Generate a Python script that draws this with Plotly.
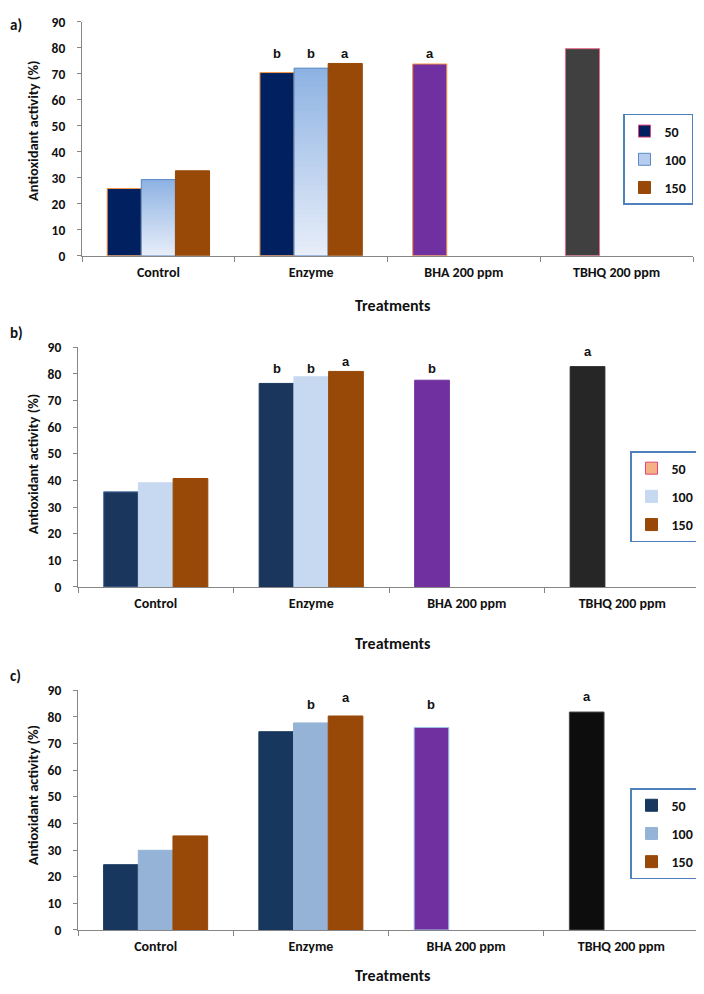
import plotly.graph_objects as go
from plotly.subplots import make_subplots

# the page body keeps its default 8px margin, so the figure is drawn 8px in
OFF = 8
W, H = 704 - OFF, 994 - OFF

categories = ["Control", "Enzyme", "BHA 200 ppm", "TBHQ 200 ppm"]
series_names = ["50", "100", "150"]

# a)
a_50 = [25.9, 70.5, 73.8, 79.7]
a_100 = [29.3, 72.2, None, None]
a_150 = [32.7, 74.0, None, None]
a_letters = [("Enzyme", 0, "b", 77.9), ("Enzyme", 1, "b", 77.9),
             ("Enzyme", 2, "a", 77.9), ("BHA 200 ppm", 0, "a", 77.9)]

# b)
b_50 = [35.7, 76.4, 77.6, 82.7]
b_100 = [39.1, 78.9, None, None]
b_150 = [40.7, 80.9, None, None]
b_letters = [("Enzyme", 0, "b", 81.9), ("Enzyme", 1, "b", 81.9),
             ("Enzyme", 2, "a", 84.7), ("BHA 200 ppm", 0, "b", 81.9),
             ("TBHQ 200 ppm", 0, "a", 88.4)]

# c)
c_50 = [24.5, 74.4, 76.0, 81.8]
c_100 = [29.9, 77.7, None, None]
c_150 = [35.3, 80.3, None, None]
c_letters = [("Enzyme", 1, "b", 84.6), ("Enzyme", 2, "a", 87.2),
             ("BHA 200 ppm", 0, "b", 84.6), ("TBHQ 200 ppm", 0, "a", 87.7)]

FONT = "Carlito, Lato, sans-serif"
AXIS = "#868686"
TXT = "#111111"
BROWN = "#984807"
PURPLE = "#7030A0"

# plot areas in page pixels: left, right, top(90), bottom(0)
boxes = [(82, 693, 14, 252), (78, 700, 345, 589), (78, 699, 694, 938)]
BARGAP = 0.33


def px(x):
    return (x - OFF) / W


def py(y):
    return 1 - (y - OFF) / H


def hexmix(c1, c2, f):
    a = [int(c1[i:i + 2], 16) for i in (1, 3, 5)]
    b = [int(c2[i:i + 2], 16) for i in (1, 3, 5)]
    return "#" + "".join("%02x" % round(a[i] + (b[i] - a[i]) * f) for i in range(3))


fig = make_subplots(rows=3, cols=1)

panels = [
    dict(v=(a_50, a_100, a_150), letters=a_letters,
         c50=["#002060", "#002060", PURPLE, "#404040"],
         l50=["#F79646", "#F79646", "#F79646", "#E46C8A"],
         c100="#B7CCEE", l100="#5A8AC6", grad=("#E8EEF9", "#8DB2E3"),
         c150=BROWN, leg50=("#002060", "#E0457B")),
    dict(v=(b_50, b_100, b_150), letters=b_letters,
         c50=["#1B365D", "#1B365D", PURPLE, "#262626"],
         l50=["#4A6FA5", "#1B365D", PURPLE, "#262626"],
         c100="#C6D9F1", l100="#C6D9F1", grad=None,
         c150=BROWN, leg50=("#F4B183", "#E0457B")),
    dict(v=(c_50, c_100, c_150), letters=c_letters,
         c50=["#17375E", "#17375E", PURPLE, "#0D0D0D"],
         l50=["#17375E", "#17375E", "#9DC3E6", "#4A4A4A"],
         c100="#95B3D7", l100="#95B3D7", grad=None,
         c150=BROWN, leg50=("#17375E", "#17375E")),
]

annotations = []
for i, p in enumerate(panels):
    row = i + 1
    leg = "legend" if i == 0 else "legend%d" % row
    v50, v100, v150 = p["v"]

    fig.add_trace(go.Bar(x=categories, y=v50, offsetgroup="50", name="50",
                         marker=dict(color=p["c50"], line=dict(color=p["l50"], width=1)),
                         showlegend=False), row=row, col=1)
    fig.add_trace(go.Bar(x=categories, y=[None] * 4, offsetgroup="50", name="50",
                         legend=leg, legendgroup="50",
                         marker=dict(color=p["leg50"][0], line=dict(color=p["leg50"][1], width=1))),
                  row=row, col=1)

    if p["grad"]:
        # vertical gradient: each layer runs from its base up to the bar top
        n = 40
        for k in range(n):
            fig.add_trace(go.Bar(x=categories,
                                 y=[v * (n - k) / n if v else None for v in v100],
                                 base=[v * k / n if v else None for v in v100],
                                 offsetgroup="100", showlegend=False, hoverinfo="skip",
                                 marker=dict(color=hexmix(p["grad"][0], p["grad"][1], (k + 0.5) / n),
                                             line=dict(width=0))),
                          row=row, col=1)
        fig.add_trace(go.Bar(x=categories, y=v100, offsetgroup="100", showlegend=False,
                             marker=dict(color="rgba(0,0,0,0)", line=dict(color=p["l100"], width=1))),
                      row=row, col=1)
        fig.add_trace(go.Bar(x=categories, y=[None] * 4, offsetgroup="100", name="100",
                             legend=leg, legendgroup="100",
                             marker=dict(color=p["c100"], line=dict(color=p["l100"], width=1))),
                      row=row, col=1)
    else:
        fig.add_trace(go.Bar(x=categories, y=v100, offsetgroup="100", name="100",
                             legend=leg, legendgroup="100",
                             marker=dict(color=p["c100"], line=dict(color=p["l100"], width=1))),
                      row=row, col=1)

    fig.add_trace(go.Bar(x=categories, y=v150, offsetgroup="150", name="150",
                         legend=leg, legendgroup="150",
                         marker=dict(color=p["c150"], line=dict(color=p["c150"], width=1))),
                  row=row, col=1)

    x0, x1, yt, yb = boxes[i]
    ax = "" if i == 0 else str(row)
    fig.update_layout({
        "xaxis" + ax: dict(
            domain=[px(x0), px(x1)], type="category", range=[-0.5, 3.5],
            tickson="boundaries", ticks="outside", ticklen=5, tickcolor=AXIS,
            showline=True, linecolor=AXIS, linewidth=1, showgrid=False,
            ticklabelstandoff=3,
            tickfont=dict(family=FONT, size=14, color=TXT, weight="bold")),
        "yaxis" + ax: dict(
            domain=[py(yb), py(yt)], range=[0, 90], dtick=10,
            ticks="outside", ticklen=4, tickcolor=AXIS,
            showline=True, linecolor=AXIS, linewidth=1, showgrid=False, zeroline=False,
            ticklabelstandoff=9, ticklabeloverflow="allow",
            tickfont=dict(family=FONT, size=13.5, color=TXT, weight="bold")),
    })

    slot = (x1 - x0) / 4 * (1 - BARGAP) / 3
    for cat, s, txt, yy in p["letters"]:
        annotations.append(dict(x=cat, y=yy, xref="x" + ax, yref="y" + ax, text=txt,
                                xshift=(s - 1) * slot, showarrow=False,
                                xanchor="center", yanchor="middle",
                                font=dict(family="Liberation Sans, Arial", size=13,
                                          color=TXT, weight="bold")))

    # axis titles and panel label
    ymid = [125, 464, 801][i]
    annotations.append(dict(x=px(33), y=py(ymid), xref="paper", yref="paper",
                            text="Antioxidant activity (%)", textangle=-90, showarrow=False,
                            xanchor="center", yanchor="middle",
                            font=dict(family=FONT, size=14.5, color=TXT, weight="bold")))
    ytr = [303, 647, 984][i]
    annotations.append(dict(x=px(392), y=py(ytr), xref="paper", yref="paper",
                            text="Treatments", showarrow=False,
                            xanchor="center", yanchor="middle",
                            font=dict(family=FONT, size=16, color=TXT, weight="bold")))
    ylab = [17, 331, 680][i]
    annotations.append(dict(x=0, y=py(ylab), xref="paper", yref="paper",
                            text="abc"[i] + ")", showarrow=False, xanchor="left", yanchor="middle",
                            font=dict(family=FONT, size=15, color=TXT, weight="bold")))

legend_pos = [(693, 154), (700, 497), (700, 840)]
for i, (lx, ly) in enumerate(legend_pos):
    key = "legend" if i == 0 else "legend%d" % (i + 1)
    fig.update_layout({key: dict(
        x=px(lx), y=py(ly), xanchor="right", yanchor="middle",
        xref="paper", yref="paper",
        bordercolor="#4F81BD", borderwidth=1.5, bgcolor="white",
        traceorder="grouped", tracegroupgap=7, itemwidth=30,
        font=dict(family=FONT, size=14, color=TXT, weight="bold"))})

fig.update_layout(
    width=W, height=H, margin=dict(l=0, r=0, t=0, b=0),
    barmode="group", bargap=BARGAP, bargroupgap=0,
    plot_bgcolor="white", paper_bgcolor="white",
    annotations=annotations,
)

fig.write_html("out.html")
